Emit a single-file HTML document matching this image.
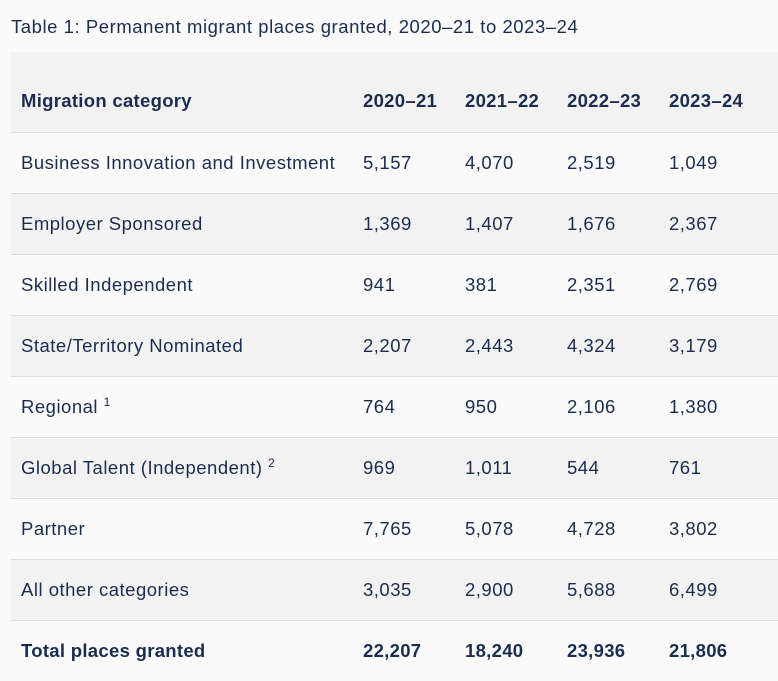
<!DOCTYPE html>
<html><head><meta charset="utf-8"><style>
body{margin:0;background:#fafafa;width:778px;height:680px;overflow:hidden;font-family:"Liberation Sans",Arial,sans-serif;color:#1b2d4f}
.t{position:absolute;left:11px;top:16px;font-size:18.5px;letter-spacing:0.55px}
table{position:absolute;left:11px;top:52px;width:767px;border-collapse:collapse;font-size:18.5px;letter-spacing:0.5px}
td,th{padding:0 0 0 10px;text-align:left;white-space:nowrap}
th{font-weight:bold;height:80px;padding-top:18px;box-sizing:border-box;letter-spacing:0.3px}
tr{border-bottom:1px solid #dcdcdc}
td{height:60px}
tr.g{background:#f2f2f2}
tr.b td{font-weight:bold;letter-spacing:0.3px}
tr:last-child{border-bottom:none}
sup{font-size:12px;vertical-align:7px}
</style></head><body>
<div class="t">Table 1: Permanent migrant places granted, 2020–21 to 2023–24</div>
<table>
<colgroup><col style="width:342px"><col style="width:102px"><col style="width:102px"><col style="width:102px"><col></colgroup>
<tr class="g"><th>Migration category</th><th>2020–21</th><th>2021–22</th><th>2022–23</th><th>2023–24</th></tr>
<tr><td>Business Innovation and Investment</td><td>5,157</td><td>4,070</td><td>2,519</td><td>1,049</td></tr>
<tr class="g"><td>Employer Sponsored</td><td>1,369</td><td>1,407</td><td>1,676</td><td>2,367</td></tr>
<tr><td>Skilled Independent</td><td>941</td><td>381</td><td>2,351</td><td>2,769</td></tr>
<tr class="g"><td>State/Territory Nominated</td><td>2,207</td><td>2,443</td><td>4,324</td><td>3,179</td></tr>
<tr><td>Regional <sup>1</sup></td><td>764</td><td>950</td><td>2,106</td><td>1,380</td></tr>
<tr class="g"><td>Global Talent (Independent) <sup>2</sup></td><td>969</td><td>1,011</td><td>544</td><td>761</td></tr>
<tr><td>Partner</td><td>7,765</td><td>5,078</td><td>4,728</td><td>3,802</td></tr>
<tr class="g"><td>All other categories</td><td>3,035</td><td>2,900</td><td>5,688</td><td>6,499</td></tr>
<tr class="b"><td>Total places granted</td><td>22,207</td><td>18,240</td><td>23,936</td><td>21,806</td></tr>
</table>
</body></html>
